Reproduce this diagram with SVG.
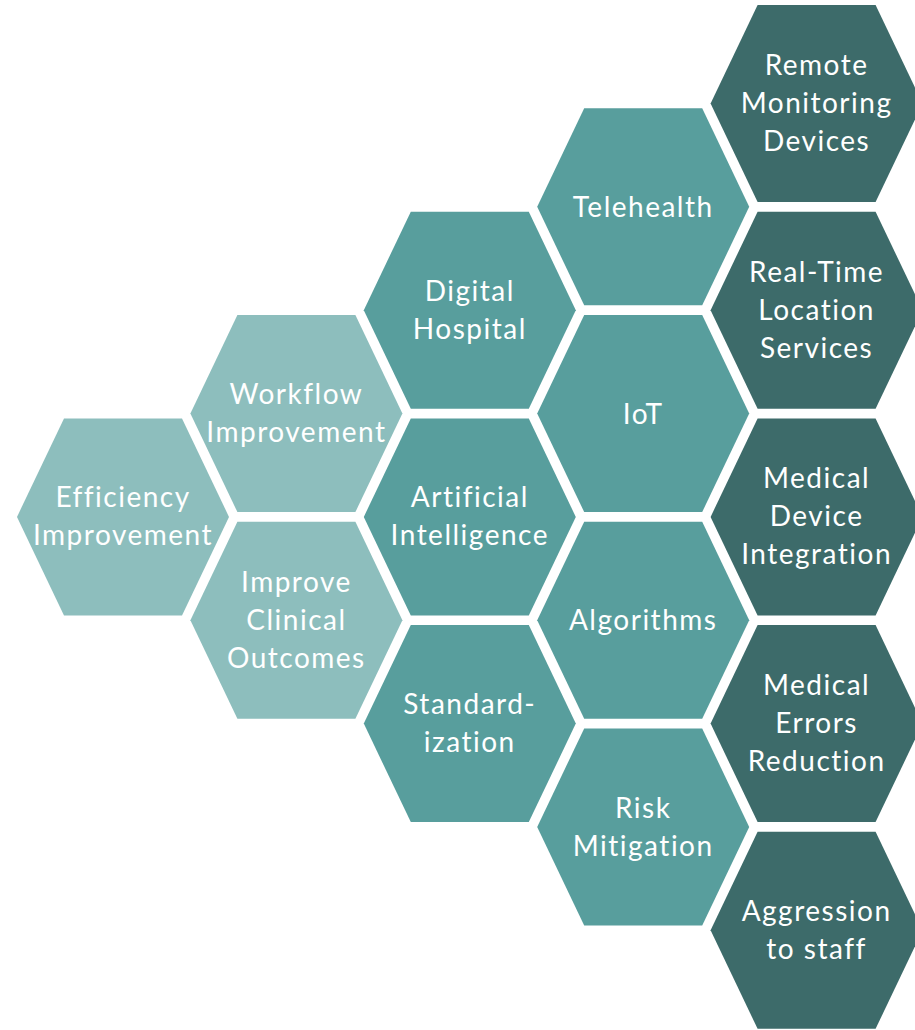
<svg xmlns="http://www.w3.org/2000/svg" xmlns:xlink="http://www.w3.org/1999/xlink" width="915" height="1030" viewBox="0 0 915 1030">
<style>
.light{fill:#8DBEBD}
.mid{fill:#589E9D}
.dark{fill:#3D6B6A}
text{font-family:Lato,"Open Sans","Liberation Sans",sans-serif;font-size:28px;font-weight:400;fill:#ffffff;text-anchor:middle;letter-spacing:1.5px}
</style>
<defs>
<polygon id="hex" points="-106,0 -59,-98.5 59,-98.5 106,0 59,98.5 -59,98.5"/>
</defs>
<rect width="915" height="1030" fill="#ffffff"/>
<g id="connectors"/>
<g id="n-efficiency"><use xlink:href="#hex" href="#hex" class="light" x="123" y="516.9"/><text x="123" y="507.4">Efficiency</text><text x="123" y="545.4">Improvement</text></g>
<g id="n-workflow"><use xlink:href="#hex" href="#hex" class="light" x="296.4" y="413.55"/><text x="296.4" y="404">Workflow</text><text x="296.4" y="442">Improvement</text></g>
<g id="n-clinical"><use xlink:href="#hex" href="#hex" class="light" x="296.4" y="620.25"/><text x="296.4" y="591.8">Improve</text><text x="296.4" y="629.8">Clinical</text><text x="296.4" y="667.8">Outcomes</text></g>
<g id="n-digital"><use xlink:href="#hex" href="#hex" class="mid" x="469.8" y="310.2"/><text x="469.8" y="300.7">Digital</text><text x="469.8" y="338.7">Hospital</text></g>
<g id="n-ai"><use xlink:href="#hex" href="#hex" class="mid" x="469.8" y="516.9"/><text x="469.8" y="507.4">Artificial</text><text x="469.8" y="545.4">Intelligence</text></g>
<g id="n-standard"><use xlink:href="#hex" href="#hex" class="mid" x="469.8" y="723.6"/><text x="469.8" y="714.1">Standard-</text><text x="469.8" y="752.1">ization</text></g>
<g id="n-telehealth"><use xlink:href="#hex" href="#hex" class="mid" x="643.2" y="206.85"/><text x="643.2" y="217">Telehealth</text></g>
<g id="n-iot"><use xlink:href="#hex" href="#hex" class="mid" x="643.2" y="413.55"/><text x="643.2" y="423.5">IoT</text></g>
<g id="n-algorithms"><use xlink:href="#hex" href="#hex" class="mid" x="643.2" y="620.25"/><text x="643.2" y="630.2">Algorithms</text></g>
<g id="n-risk"><use xlink:href="#hex" href="#hex" class="mid" x="643.2" y="826.95"/><text x="643.2" y="817.5">Risk</text><text x="643.2" y="855.5">Mitigation</text></g>
<g id="n-remote"><use xlink:href="#hex" href="#hex" class="dark" x="816.6" y="103.5"/><text x="816.6" y="75">Remote</text><text x="816.6" y="113">Monitoring</text><text x="816.6" y="151">Devices</text></g>
<g id="n-rtls"><use xlink:href="#hex" href="#hex" class="dark" x="816.6" y="310.2"/><text x="816.6" y="281.7">Real-Time</text><text x="816.6" y="319.7">Location</text><text x="816.6" y="357.7">Services</text></g>
<g id="n-device"><use xlink:href="#hex" href="#hex" class="dark" x="816.6" y="516.9"/><text x="816.6" y="488.4">Medical</text><text x="816.6" y="526.4">Device</text><text x="816.6" y="564.4">Integration</text></g>
<g id="n-errors"><use xlink:href="#hex" href="#hex" class="dark" x="816.6" y="723.6"/><text x="816.6" y="695.1">Medical</text><text x="816.6" y="733.1">Errors</text><text x="816.6" y="771.1">Reduction</text></g>
<g id="n-aggression"><use xlink:href="#hex" href="#hex" class="dark" x="816.6" y="930.3"/><text x="816.6" y="920.8">Aggression</text><text x="816.6" y="958.8">to staff</text></g>
</svg>
